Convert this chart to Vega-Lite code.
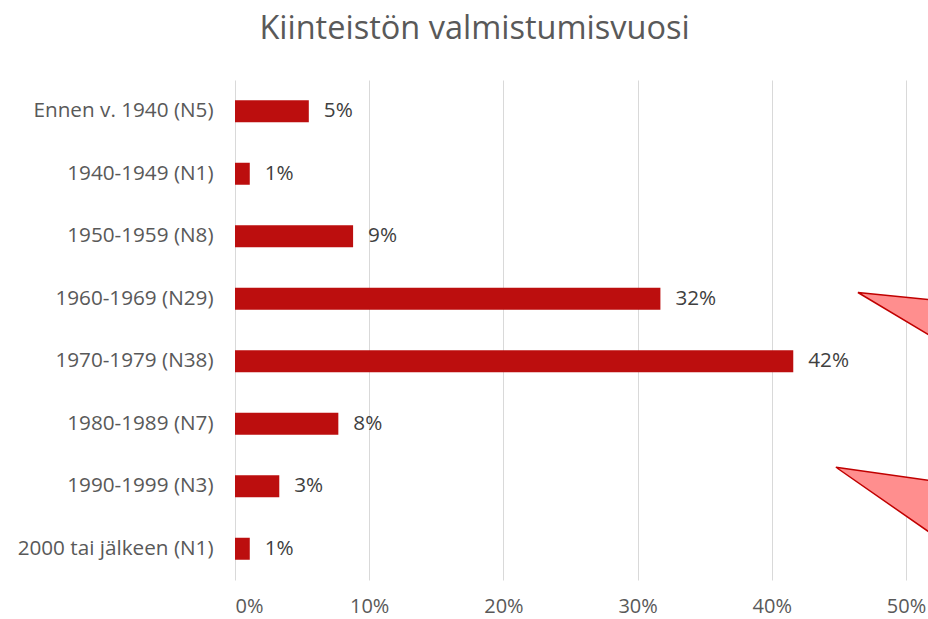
{
  "$schema": "https://vega.github.io/schema/vega-lite/v6.json",
  "width": 693,
  "height": 500,
  "autosize": "none",
  "padding": {"left": 235, "top": 80, "right": 0, "bottom": 39},
  "background": "white",
  "config": {
    "view": {"stroke": null},
    "font": "Open Sans"
  },
  "title": {
    "text": "Kiinteistön valmistumisvuosi",
    "fontSize": 32.5,
    "fontWeight": "normal",
    "color": "#595959",
    "anchor": "middle",
    "dx": -107,
    "offset": 35
  },
  "datasets": {
    "bars": [
      {"kategoria": "Ennen v. 1940 (N5)", "osuus": 0.055, "teksti": "5%"},
      {"kategoria": "1940-1949 (N1)", "osuus": 0.011, "teksti": "1%"},
      {"kategoria": "1950-1959 (N8)", "osuus": 0.088, "teksti": "9%"},
      {"kategoria": "1960-1969 (N29)", "osuus": 0.317, "teksti": "32%"},
      {"kategoria": "1970-1979 (N38)", "osuus": 0.416, "teksti": "42%"},
      {"kategoria": "1980-1989 (N7)", "osuus": 0.077, "teksti": "8%"},
      {"kategoria": "1990-1999 (N3)", "osuus": 0.033, "teksti": "3%"},
      {"kategoria": "2000 tai jälkeen (N1)", "osuus": 0.011, "teksti": "1%"}
    ],
    "callouts": [
      {"muoto": "A", "x": 0.4642, "y": 3.40, "y2": 3.40},
      {"muoto": "A", "x": 0.53, "y": 3.539, "y2": 4.245},
      {"muoto": "B", "x": 0.4478, "y": 6.196, "y2": 6.196},
      {"muoto": "B", "x": 0.53, "y": 6.445, "y2": 7.423}
    ]
  },
  "layer": [
    {
      "data": {"name": "bars"},
      "encoding": {
        "y": {
          "field": "kategoria",
          "type": "nominal",
          "sort": null,
          "scale": {"paddingInner": 0.648, "paddingOuter": 0.324},
          "axis": {
            "title": null,
            "domain": false,
            "ticks": false,
            "labelPadding": 22,
            "labelLimit": 400,
            "labelFontSize": 20.7,
            "labelColor": "#595959",
            "labelFont": "Open Sans"
          }
        },
        "x": {
          "field": "osuus",
          "type": "quantitative",
          "scale": {"domain": [0, 0.5164], "nice": false, "zero": true},
          "axis": {
            "title": null,
            "format": ".0%",
            "values": [0, 0.1, 0.2, 0.3, 0.4, 0.5],
            "domain": false,
            "ticks": false,
            "grid": true,
            "gridColor": "#D9D9D9",
            "gridWidth": 1,
            "labelPadding": 16,
            "labelFontSize": 20,
            "labelColor": "#595959",
            "labelFont": "Open Sans"
          }
        }
      },
      "layer": [
        {"mark": {"type": "bar", "color": "#BC0E0E"}},
        {
          "mark": {"type": "text", "align": "left", "dx": 15, "fontSize": 20.7, "color": "#404040", "font": "Open Sans"},
          "encoding": {"text": {"field": "teksti"}}
        }
      ]
    },
    {
      "data": {"name": "callouts"},
      "mark": {"type": "area", "orient": "vertical", "clip": true, "fill": "#FF8E8E", "stroke": "#C00000", "strokeWidth": 1.5, "strokeJoin": "miter"},
      "encoding": {
        "x": {"field": "x", "type": "quantitative"},
        "y": {"field": "y", "type": "quantitative", "scale": {"domain": [0, 8], "reverse": true, "nice": false, "zero": false}, "axis": null},
        "y2": {"field": "y2"},
        "detail": {"field": "muoto"}
      }
    }
  ],
  "resolve": {"scale": {"y": "independent"}, "axis": {"y": "independent"}}
}
